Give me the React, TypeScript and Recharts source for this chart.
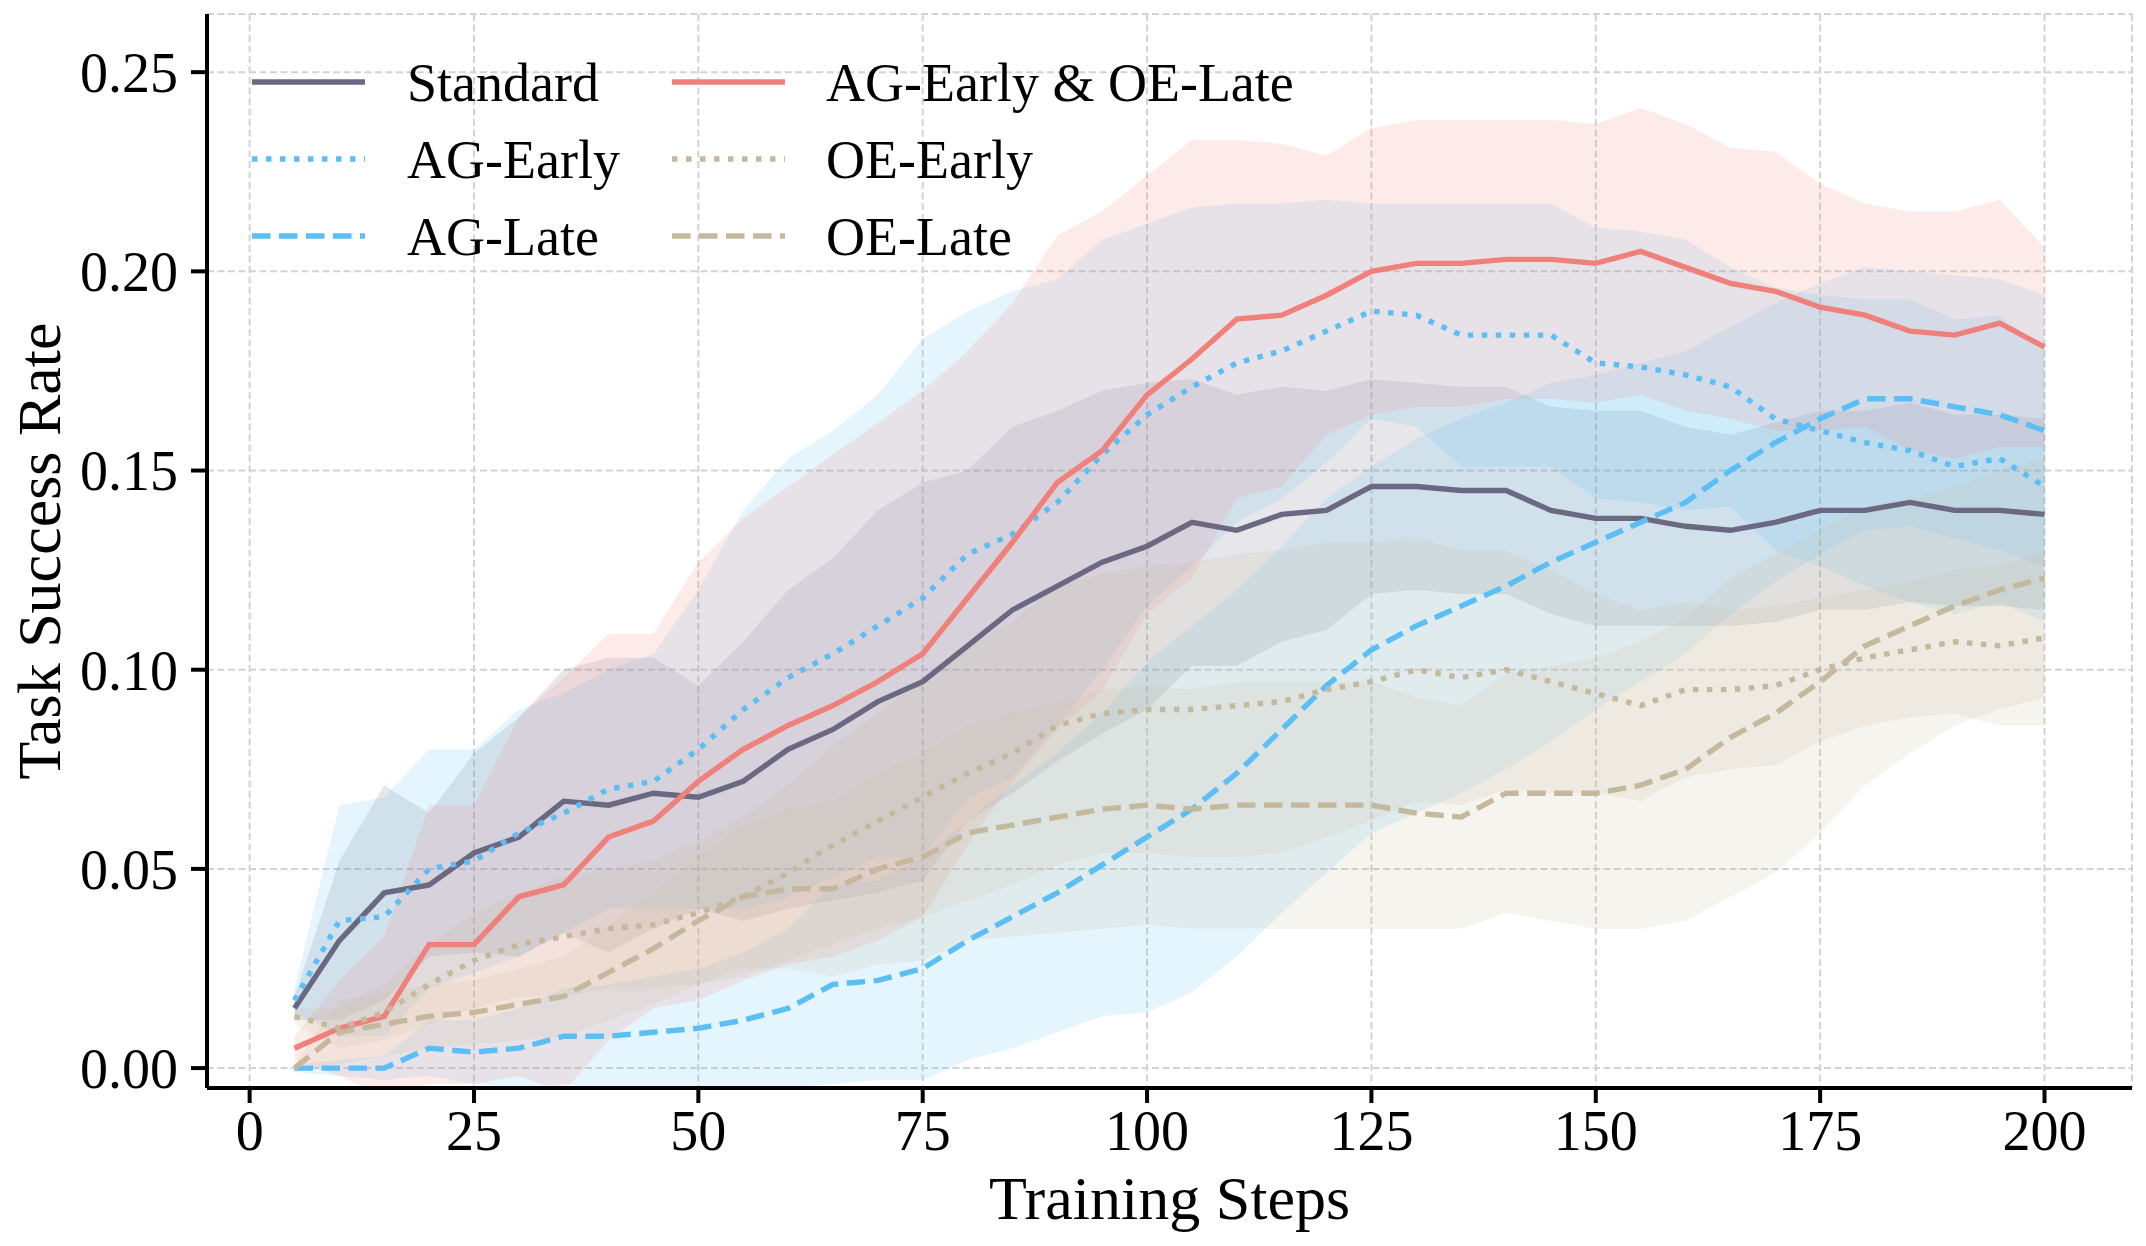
import {
  ComposedChart,
  Line,
  Area,
  XAxis,
  YAxis,
  CartesianGrid,
  Legend,
} from "recharts";

// training steps (x)
const steps = [
  5, 10, 15, 20, 25, 30, 35, 40, 45, 50, 55, 60, 65, 70, 75, 80, 85, 90, 95, 100,
  105, 110, 115, 120, 125, 130, 135, 140, 145, 150, 155, 160, 165, 170, 175, 180,
  185, 190, 195, 200,
];

// mean success rate per variant
const standardMean = [
  0.015, 0.032, 0.044, 0.046, 0.054, 0.058, 0.067, 0.066, 0.069, 0.068, 0.072,
  0.08, 0.085, 0.092, 0.097, 0.106, 0.115, 0.121, 0.127, 0.131, 0.137, 0.135,
  0.139, 0.14, 0.146, 0.146, 0.145, 0.145, 0.14, 0.138, 0.138, 0.136, 0.135,
  0.137, 0.14, 0.14, 0.142, 0.14, 0.14, 0.139,
];
const agEarlyMean = [
  0.017, 0.037, 0.038, 0.05, 0.052, 0.059, 0.064, 0.07, 0.072, 0.08, 0.09, 0.098,
  0.104, 0.111, 0.118, 0.129, 0.134, 0.142, 0.154, 0.164, 0.171, 0.177, 0.18,
  0.185, 0.19, 0.189, 0.184, 0.184, 0.184, 0.177, 0.176, 0.174, 0.171, 0.163,
  0.16, 0.157, 0.155, 0.151, 0.153, 0.146,
];
const agLateMean = [
  0.0, 0.0, 0.0, 0.005, 0.004, 0.005, 0.008, 0.008, 0.009, 0.01, 0.012, 0.015,
  0.021, 0.022, 0.025, 0.032, 0.038, 0.044, 0.051, 0.058, 0.065, 0.074, 0.085,
  0.096, 0.105, 0.111, 0.116, 0.121, 0.127, 0.132, 0.137, 0.142, 0.15, 0.157,
  0.163, 0.168, 0.168, 0.166, 0.164, 0.16,
];
const comboMean = [
  0.005, 0.01, 0.013, 0.031, 0.031, 0.043, 0.046, 0.058, 0.062, 0.072, 0.08,
  0.086, 0.091, 0.097, 0.104, 0.118, 0.132, 0.147, 0.155, 0.169, 0.178, 0.188,
  0.189, 0.194, 0.2, 0.202, 0.202, 0.203, 0.203, 0.202, 0.205, 0.201, 0.197,
  0.195, 0.191, 0.189, 0.185, 0.184, 0.187, 0.181,
];
const oeEarlyMean = [
  0.013, 0.01, 0.014, 0.021, 0.027, 0.031, 0.033, 0.035, 0.036, 0.039, 0.043,
  0.049, 0.056, 0.062, 0.068, 0.074, 0.079, 0.086, 0.089, 0.09, 0.09, 0.091,
  0.092, 0.095, 0.097, 0.1, 0.098, 0.1, 0.097, 0.094, 0.091, 0.095, 0.095, 0.096,
  0.1, 0.103, 0.105, 0.107, 0.106, 0.108,
];
const oeLateMean = [
  0.0, 0.009, 0.011, 0.013, 0.014, 0.016, 0.018, 0.024, 0.03, 0.037, 0.043,
  0.045, 0.045, 0.05, 0.053, 0.059, 0.061, 0.063, 0.065, 0.066, 0.065, 0.066,
  0.066, 0.066, 0.066, 0.064, 0.063, 0.069, 0.069, 0.069, 0.071, 0.075, 0.083,
  0.089, 0.097, 0.106, 0.111, 0.116, 0.12, 0.123,
];

// half-width of the shaded band (std) per variant
const standardStd = [
  0.003, 0.02, 0.027, 0.018, 0.025, 0.03, 0.033, 0.037, 0.034, 0.028, 0.035,
  0.04, 0.043, 0.048, 0.05, 0.044, 0.046, 0.044, 0.043, 0.041, 0.036, 0.034,
  0.032, 0.03, 0.027, 0.026, 0.026, 0.026, 0.026, 0.027, 0.027, 0.025, 0.024,
  0.025, 0.025, 0.025, 0.025, 0.024, 0.024, 0.024,
];
const agEarlyStd = [
  0.003, 0.029, 0.03, 0.03, 0.028, 0.031, 0.03, 0.03, 0.032, 0.04, 0.05, 0.055,
  0.056, 0.058, 0.065, 0.061, 0.061, 0.056, 0.054, 0.048, 0.045, 0.04, 0.037,
  0.033, 0.027, 0.028, 0.033, 0.033, 0.033, 0.034, 0.034, 0.034, 0.03, 0.033,
  0.034, 0.036, 0.038, 0.037, 0.036, 0.034,
];
const agLateStd = [
  0.001, 0.002, 0.003, 0.007, 0.008, 0.01, 0.012, 0.013, 0.014, 0.015, 0.017,
  0.02, 0.025, 0.025, 0.028, 0.03, 0.033, 0.035, 0.038, 0.044, 0.046, 0.046,
  0.046, 0.047, 0.046, 0.047, 0.047, 0.046, 0.045, 0.042, 0.04, 0.038, 0.036,
  0.035, 0.034, 0.033, 0.032, 0.033, 0.034, 0.034,
];
const comboStd = [
  0.003, 0.012, 0.02, 0.035, 0.035, 0.045, 0.052, 0.051, 0.047, 0.055, 0.058,
  0.06, 0.063, 0.065, 0.066, 0.062, 0.06, 0.062, 0.06, 0.055, 0.055, 0.045,
  0.043, 0.035, 0.036, 0.036, 0.036, 0.035, 0.035, 0.035, 0.036, 0.036, 0.034,
  0.035, 0.031, 0.028, 0.03, 0.031, 0.031, 0.025,
];
const oeEarlyStd = [
  0.002, 0.005, 0.007, 0.01, 0.012, 0.013, 0.015, 0.015, 0.016, 0.018, 0.02,
  0.022, 0.025, 0.027, 0.03, 0.032, 0.033, 0.035, 0.035, 0.036, 0.037, 0.038,
  0.038, 0.037, 0.035, 0.033, 0.032, 0.03, 0.028, 0.025, 0.024, 0.022, 0.02,
  0.02, 0.018, 0.017, 0.017, 0.018, 0.02, 0.022,
];
const oeLateStd = [
  0.001, 0.008, 0.008, 0.008, 0.008, 0.009, 0.01, 0.012, 0.014, 0.016, 0.018,
  0.02, 0.022, 0.024, 0.026, 0.027, 0.028, 0.029, 0.03, 0.03, 0.03, 0.031,
  0.031, 0.031, 0.031, 0.029, 0.028, 0.03, 0.032, 0.034, 0.036, 0.038, 0.04,
  0.04, 0.038, 0.035, 0.032, 0.03, 0.03, 0.03,
];

const xTicks = [0, 25, 50, 75, 100, 125, 150, 175, 200];
const yTicks = [0, 0.05, 0.1, 0.15, 0.2, 0.25];

const PURPLE = "#6b6882";
const BLUE = "#5bbff5";
const RED = "#f0807a";
const BEIGE = "#c4b99d";
const DOT = "5.5 8.5";
const DASH = "18.5 8.5";
const LW = 5.4;

const series = [
  { key: "standard", name: "Standard", mean: standardMean, std: standardStd, color: PURPLE, dash: undefined },
  { key: "agEarly", name: "AG-Early", mean: agEarlyMean, std: agEarlyStd, color: BLUE, dash: DOT },
  { key: "agLate", name: "AG-Late", mean: agLateMean, std: agLateStd, color: BLUE, dash: DASH },
  { key: "combo", name: "AG-Early & OE-Late", mean: comboMean, std: comboStd, color: RED, dash: undefined },
  { key: "oeEarly", name: "OE-Early", mean: oeEarlyMean, std: oeEarlyStd, color: BEIGE, dash: DOT },
  { key: "oeLate", name: "OE-Late", mean: oeLateMean, std: oeLateStd, color: BEIGE, dash: DASH },
];

const data = steps.map((step, i) => {
  const row: Record<string, number | number[]> = { step };
  series.forEach((s) => {
    row[s.key] = s.mean[i];
    row[s.key + "Band"] = [s.mean[i] - s.std[i], s.mean[i] + s.std[i]];
  });
  return row;
});

const FONT = "'Liberation Serif', 'Times New Roman', serif";

// two-column legend, filled column by column like matplotlib
const renderLegend = () => {
  const rowY = [82, 159, 236];
  const cols = [
    { lineX: 252, textX: 407 },
    { lineX: 672, textX: 826 },
  ];
  return (
    <svg width={1400} height={280} style={{ display: "block", overflow: "visible" }}>
      {series.map((s, i) => {
        const col = cols[Math.floor(i / 3)];
        const y = rowY[i % 3];
        return (
          <g key={s.key}>
            <line
              x1={col.lineX}
              x2={col.lineX + 113}
              y1={y}
              y2={y}
              stroke={s.color}
              strokeWidth={LW}
              strokeDasharray={s.dash}
            />
            <text
              x={col.textX}
              y={y}
              dy="0.35em"
              fontSize={54}
              fontFamily={FONT}
              fill="#000"
            >
              {s.name}
            </text>
          </g>
        );
      })}
    </svg>
  );
};

export default function App() {
  return (
    <div style={{ position: "absolute", left: 0, top: 0, background: "#fff" }}>
      <ComposedChart
        width={2146}
        height={1246}
        data={data}
        margin={{ top: 14, right: 14, left: 0, bottom: 0 }}
        style={{ fontFamily: FONT }}
      >
        <CartesianGrid
          stroke="#d3d3d3"
          strokeWidth={2}
          strokeDasharray="7 3.5"
        />
        <XAxis
          dataKey="step"
          type="number"
          domain={[-4.75, 209.75]}
          ticks={xTicks}
          allowDataOverflow
          height={158}
          tickSize={15}
          tickMargin={7}
          axisLine={{ stroke: "#000", strokeWidth: 4 }}
          tickLine={{ stroke: "#000", strokeWidth: 4 }}
          tick={{ fill: "#000", fontSize: 56, fontFamily: FONT }}
          label={{
            value: "Training Steps",
            position: "insideBottom",
            offset: 27,
            fill: "#000",
            fontSize: 62,
            fontFamily: FONT,
          }}
        />
        <YAxis
          type="number"
          domain={[-0.005, 0.2646]}
          ticks={yTicks}
          allowDataOverflow
          width={207}
          tickSize={16}
          tickMargin={13}
          tickFormatter={(v: number) => v.toFixed(2)}
          axisLine={{ stroke: "#000", strokeWidth: 4 }}
          tickLine={{ stroke: "#000", strokeWidth: 4 }}
          tick={{ fill: "#000", fontSize: 56, fontFamily: FONT }}
          label={{
            value: "Task Success Rate",
            angle: -90,
            position: "insideLeft",
            offset: 38,
            fill: "#000",
            fontSize: 62,
            fontFamily: FONT,
            style: { textAnchor: "middle" },
          }}
        />
        <Legend
          layout="horizontal"
          verticalAlign="middle"
          align="center"
          content={renderLegend}
          wrapperStyle={{ position: "absolute", left: 0, top: 0, width: 1400, height: 280 }}
        />
        {series.map((s) => (
          <Area
            key={s.key + "Band"}
            dataKey={s.key + "Band"}
            type="linear"
            stroke="none"
            fill={s.color}
            fillOpacity={0.16}
            isAnimationActive={false}
            legendType="none"
            activeDot={false}
          />
        ))}
        {series.map((s) => (
          <Line
            key={s.key}
            dataKey={s.key}
            name={s.name}
            type="linear"
            stroke={s.color}
            strokeWidth={LW}
            strokeDasharray={s.dash}
            dot={false}
            activeDot={false}
            isAnimationActive={false}
          />
        ))}
      </ComposedChart>
    </div>
  );
}
